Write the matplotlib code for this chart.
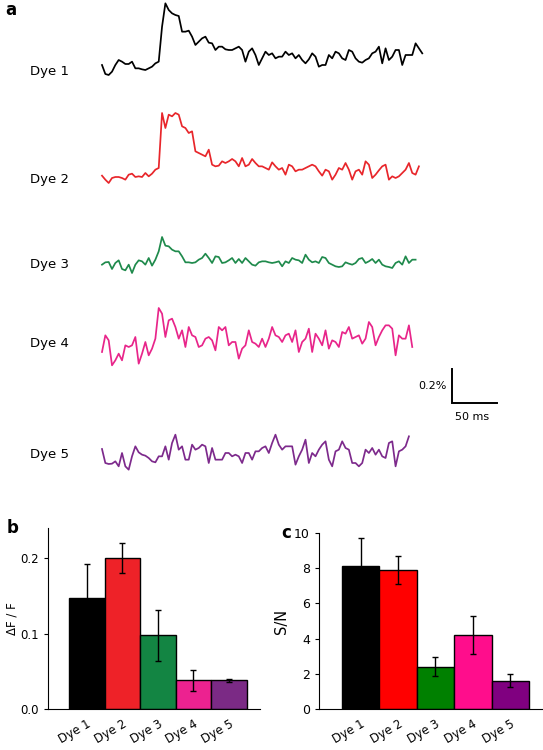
import numpy as np
import matplotlib
matplotlib.use("Agg")
import matplotlib.pyplot as plt

# optical traces, deflection from baseline
# (units: 0.2 % dF/F = 102 units), one sample every ~3.65 ms
dye1 = [15, -12, -15, -5, 15, 30, 25, 18, 18, 25, 5, 5, 2, 0, 5, 10, 20, 25,
        130, 200, 180, 170, 165, 162, 115, 115, 118, 100, 75, 85, 95, 100, 82, 80,
        60, 70, 70, 62, 60, 60, 65, 70, 60, 25, 55, 65, 45, 15, 35, 55, 45, 50,
        35, 40, 40, 55, 45, 50, 35, 45, 30, 20, 32, 50, 40, 10, 15, 15, 45, 35,
        55, 50, 35, 30, 60, 55, 35, 25, 22, 30, 35, 50, 55, 70, 20, 65, 30, 40,
        60, 60, 15, 45, 45, 45, 80, 65, 50]
dye2 = [7, -5, -15, 0, 3, 3, 0, -5, 10, 13, 3, 5, 3, 15, 5, 13, 25, 30,
        195, 150, 190, 185, 195, 190, 155, 150, 135, 140, 80, 75, 70, 65, 85, 40,
        35, 37, 50, 45, 50, 57, 50, 35, 60, 35, 40, 57, 45, 35, 35, 30, 25, 47,
        35, 25, 30, 10, 40, 35, 20, 25, 25, 30, 35, 40, 35, 20, 7, 25, 20, -5,
        10, 30, 25, 45, 25, -5, 20, 25, 10, 50, 40, 0, 10, 23, 35, 40, -5, 5,
        0, 5, 15, 25, 45, 15, 10, 35]
dye3 = [-5, 2, 3, -18, 0, 8, -18, -22, -5, -30, -5, 8, 5, -5, 15, -8, 10, 35,
        78, 52, 50, 40, 35, 35, 20, 2, 2, 0, 2, 10, 15, 28, 15, 0, 20, 18, 0, 2,
        8, 15, 0, 12, 0, 15, 5, -5, -8, 2, 5, 5, 2, 0, 2, 5, -10, 5, 0, 15, 10,
        8, 0, 25, 10, 2, 5, 0, 18, 15, 0, -5, -10, -12, -10, 2, -2, -5, 0, 12,
        15, 0, 5, 12, 0, 10, -5, -10, -12, -15, 0, 5, -5, 20, 0, 10, 10]
dye4 = [-30, 20, 5, -70, -55, -35, -55, -10, -15, -10, 15, -65, -35, 0, -40,
        -20, 10, 102, 85, 15, 65, 70, 45, 10, 35, -15, 45, 20, 15, -15, -10, 10,
        15, 5, -25, 45, 35, 45, -10, 0, 0, -50, -20, -10, 35, 0, -5, -15, 10,
        -15, 10, 45, 20, 15, 0, 20, 25, 0, 35, -30, 0, 10, 40, -30, 25, 10, -10,
        35, -20, 5, 0, -15, 30, 25, 45, 10, 15, 20, -5, 10, 60, 45, -10, 15, 35,
        50, 50, 40, -40, 20, 10, 10, 50, -15]
dye5 = [12, -30, -33, -32, -25, -40, 0, -40, -50, -10, 20, 2, -5, -8, -15, -25,
        -28, -10, -10, 20, -20, 30, 55, 10, 20, -20, -20, 25, 10, 15, 25, 20,
        -30, 15, -20, -20, -20, 0, 0, -10, -5, -10, -30, 0, 0, -20, 5, 5, 15, 20,
        0, 30, 55, 25, 10, 20, 20, 20, -35, -10, 10, 40, -30, 0, -10, 10, 25, 35,
        -20, -40, 5, 10, 35, 15, 10, -30, -30, -40, -30, 10, 0, 15, -5, 10, -10,
        -15, 30, 35, -40, 5, 10, 20, 50]
traces = [dye1, dye2, dye3, dye4, dye5]
UNIT_PCT = 0.2 / 102
DT_MS = 3.65

dyes = ["Dye 1", "Dye 2", "Dye 3", "Dye 4", "Dye 5"]
dff = [0.148, 0.200, 0.098, 0.038, 0.038]
dff_err = [0.044, 0.020, 0.034, 0.014, 0.002]
snr = [8.1, 7.9, 2.4, 4.2, 1.6]
snr_err = [1.6, 0.8, 0.55, 1.1, 0.37]

trace_colors = ["#000000", "#e8262b", "#1f8a4c", "#e8258a", "#7d2a8c"]
b_colors = ["#000000", "#ee2228", "#138543", "#ec2290", "#7b2a85"]
c_colors = ["#000000", "#ff0000", "#008000", "#ff0d8c", "#800080"]

W, H = 543, 750
fig = plt.figure(figsize=(W / 100, H / 100), dpi=100)

# ---- panel a: traces ----
PX_PER_MS = 45.7 / 50
PX_PER_PCT = 34 / 0.2
X0 = 102
base_px = [70, 178, 263, 342, 453]
ax = fig.add_axes([0, 270 / H, 1, 480 / H])
ax.set_xlim(-X0 / PX_PER_MS, (W - X0) / PX_PER_MS)
ax.set_ylim(-480 / PX_PER_PCT, 0)
ax.axis("off")
for tr, col, b, name in zip(traces, trace_colors, base_px, dyes):
    v = np.array(tr) * UNIT_PCT
    t = np.arange(len(v)) * DT_MS
    ax.plot(t, v - b / PX_PER_PCT, color=col, lw=1.25, solid_joinstyle="round")
    ax.text(-72 / PX_PER_MS, -(b + 2) / PX_PER_PCT, name, fontsize=9.5,
            ha="left", va="center")
# scale bar
sx = (451.7 - X0) / PX_PER_MS
sy0 = -403.3 / PX_PER_PCT
ax.plot([sx, sx, sx + 50], [sy0 + 0.2, sy0, sy0], color="black", lw=1.4,
        solid_joinstyle="miter")
ax.text(sx - 5 / PX_PER_MS, sy0 + 0.1, "0.2%", fontsize=8, ha="right", va="center")
ax.text(sx + 22, sy0 - 14 / PX_PER_PCT, "50 ms", fontsize=8, ha="center", va="center")
fig.text(5 / W, 1 - 10 / H, "a", fontsize=12, fontweight="bold", va="center")

# ---- panel b ----
x = np.arange(len(dyes))
axb = fig.add_axes([48 / W, 41 / H, 212 / W, 181 / H])
axb.bar(x, dff, width=1.0, color=b_colors, edgecolor="black", linewidth=1)
axb.errorbar(x, dff, yerr=dff_err, fmt="none", ecolor="black", elinewidth=1,
             capsize=2.5, capthick=1)
axb.set_xlim(-1.09, 4.87)
axb.set_ylim(0, 0.2404)
axb.set_yticks([0.0, 0.1, 0.2])
axb.set_yticklabels(["0.0", "0.1", "0.2"])
axb.set_xticks(x)
axb.set_xticklabels(dyes, rotation=30, ha="right", rotation_mode="anchor")
axb.tick_params(axis="x", length=0, labelsize=8.5, pad=6)
axb.tick_params(axis="y", length=3, labelsize=8.5)
axb.set_ylabel("\u0394F / F", fontsize=8.5, labelpad=1)
for s in ["top", "right"]:
    axb.spines[s].set_visible(False)
fig.text(7 / W, 1 - 528 / H, "b", fontsize=12, fontweight="bold", va="center")

# ---- panel c ----
axc = fig.add_axes([319 / W, 41 / H, 223 / W, 176 / H])
axc.bar(x, snr, width=1.0, color=c_colors, edgecolor="black", linewidth=1)
axc.errorbar(x, snr, yerr=snr_err, fmt="none", ecolor="black", elinewidth=1,
             capsize=2.5, capthick=1)
axc.set_xlim(-1.115, 4.85)
axc.set_ylim(0, 10)
axc.set_yticks([0, 2, 4, 6, 8, 10])
axc.set_xticks(x)
axc.set_xticklabels(dyes, rotation=30, ha="right", rotation_mode="anchor")
axc.tick_params(axis="x", length=0, labelsize=8.5, pad=6)
axc.tick_params(axis="y", length=3, labelsize=9)
axc.set_ylabel("S/N", fontsize=10.5, labelpad=4)
for s in ["top", "right"]:
    axc.spines[s].set_visible(False)
fig.text(281 / W, 1 - 533 / H, "c", fontsize=12, fontweight="bold", va="center")

fig.savefig("out.png", dpi=100)
